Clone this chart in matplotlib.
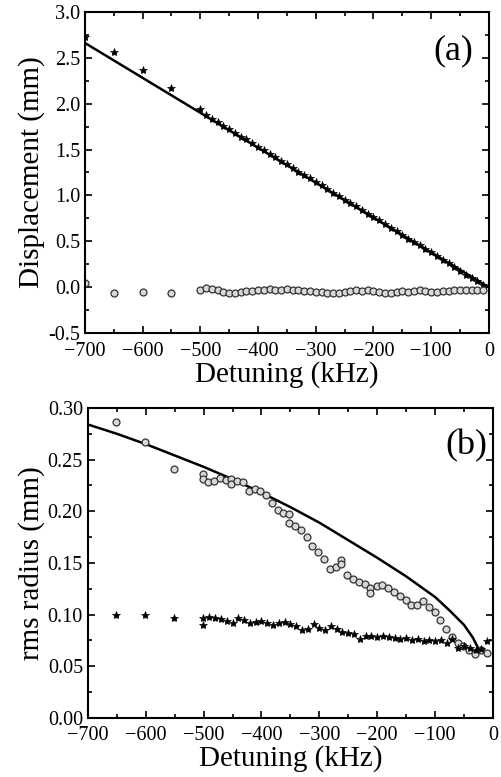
import matplotlib.pyplot as plt
from matplotlib.ticker import MultipleLocator

plt.rcParams['font.family'] = ['Liberation Serif', 'DejaVu Serif']

# ---- panel (a): displacement ----
a_star_x = [-700, -650, -600, -550,
            -500, -490, -480, -470, -460, -450, -440, -430, -420, -410,
            -400, -390, -380, -370, -360, -350, -340, -330, -320, -310,
            -300, -290, -280, -270, -260, -250, -240, -230, -220, -210,
            -200, -190, -180, -170, -160, -150, -140, -130, -120, -110,
            -100, -90, -80, -70, -60, -50, -40, -30, -20, -10]
a_star_y = [2.72, 2.56, 2.36, 2.17,
            1.94, 1.88, 1.83, 1.80, 1.76, 1.72, 1.68, 1.64, 1.61, 1.57,
            1.53, 1.49, 1.45, 1.42, 1.38, 1.34, 1.30, 1.26, 1.22, 1.19,
            1.15, 1.11, 1.07, 1.03, 0.99, 0.95, 0.92, 0.88, 0.84, 0.80,
            0.77, 0.73, 0.69, 0.65, 0.61, 0.57, 0.53, 0.49, 0.46, 0.42,
            0.38, 0.34, 0.30, 0.26, 0.22, 0.18, 0.14, 0.10, 0.07, 0.03]
a_circ_x = [-700, -650, -600, -550,
            -500, -490, -480, -470, -460, -450, -440, -430, -420, -410,
            -400, -390, -380, -370, -360, -350, -340, -330, -320, -310,
            -300, -290, -280, -270, -260, -250, -240, -230, -220, -210,
            -200, -190, -180, -170, -160, -150, -140, -130, -120, -110,
            -100, -90, -80, -70, -60, -50, -40, -30, -20, -10]
a_circ_y = [0.05, -0.06, -0.05, -0.06,
            -0.03, -0.01, -0.02, -0.03, -0.05, -0.06, -0.06, -0.05, -0.04, -0.04,
            -0.03, -0.03, -0.02, -0.03, -0.03, -0.02, -0.03, -0.03, -0.04, -0.04,
            -0.05, -0.05, -0.06, -0.06, -0.06, -0.05, -0.04, -0.03, -0.04, -0.03,
            -0.04, -0.05, -0.06, -0.06, -0.05, -0.04, -0.05, -0.04, -0.03, -0.04,
            -0.05, -0.05, -0.04, -0.04, -0.03, -0.03, -0.03, -0.03, -0.03, -0.03]
a_fit_x = [-700, 0]
a_fit_y = [2.66, 0.0]

# ---- panel (b): rms radius ----
b_circ_x = [-651, -602, -552, -501, -501, -492, -482, -472, -462, -452, -452,
            -442, -432, -422, -412, -402, -392, -382, -372, -362, -352, -352,
            -342, -332, -322, -312, -302, -292, -282, -272, -262, -262, -252,
            -242, -232, -221, -212, -212, -201, -191, -181, -171, -161, -151,
            -141, -131, -121, -111, -101, -91, -81, -71, -61, -51, -41, -31,
            -21, -10]
b_circ_y = [0.286, 0.267, 0.241, 0.236, 0.231, 0.228, 0.229, 0.232, 0.230, 0.231, 0.226,
            0.229, 0.228, 0.220, 0.222, 0.220, 0.216, 0.208, 0.201, 0.198, 0.197, 0.189,
            0.186, 0.182, 0.175, 0.166, 0.161, 0.154, 0.144, 0.146, 0.153, 0.149, 0.138,
            0.134, 0.132, 0.130, 0.126, 0.121, 0.128, 0.129, 0.126, 0.122, 0.118, 0.114,
            0.109, 0.109, 0.113, 0.107, 0.103, 0.095, 0.086, 0.078, 0.073, 0.070, 0.066, 0.062,
            0.066, 0.063]
b_star_x = [-651, -602, -552, -501, -501, -490, -480, -470, -460, -450, -440,
            -430, -420, -410, -400, -390, -380, -370, -360, -350, -340, -330,
            -320, -310, -300, -290, -280, -270, -260, -250, -240, -230, -220,
            -210, -200, -190, -180, -170, -160, -150, -140, -130, -120, -110,
            -100, -90, -80, -70, -60, -50, -40, -30, -20, -10]
b_star_y = [0.100, 0.100, 0.097, 0.097, 0.090, 0.098, 0.097, 0.096, 0.094, 0.092, 0.097,
            0.095, 0.092, 0.093, 0.094, 0.092, 0.090, 0.092, 0.093, 0.091, 0.089, 0.085,
            0.086, 0.091, 0.087, 0.085, 0.089, 0.086, 0.083, 0.082, 0.081, 0.076, 0.079,
            0.079, 0.078, 0.079, 0.078, 0.077, 0.076, 0.077, 0.075, 0.076, 0.074, 0.075,
            0.074, 0.075, 0.073, 0.076, 0.068, 0.070, 0.068, 0.066, 0.067, 0.074]
b_fit_x = [-700, -650, -600, -550, -500, -450, -400, -350, -300, -250, -200,
           -150, -100, -75, -50, -35, -25]
b_fit_y = [0.284, 0.275, 0.265, 0.254, 0.243, 0.231, 0.218, 0.204, 0.189, 0.172,
           0.155, 0.137, 0.117, 0.104, 0.090, 0.078, 0.067]

fig = plt.figure(figsize=(5.02, 7.77), dpi=100)
ax1 = fig.add_axes([0.169, 0.571, 0.805, 0.414])
ax2 = fig.add_axes([0.175, 0.076, 0.807, 0.399])

star_kw = dict(ls='none', marker='*', color='black', ms=6, mew=0.5)
circ_kw = dict(ls='none', marker='o', mfc='#d8d8d8', mec='#333333', ms=5, mew=0.9)

ax1.plot(a_fit_x, a_fit_y, color='black', lw=1.8)
ax1.plot(a_star_x, a_star_y, **star_kw)
ax1.plot(a_circ_x, a_circ_y, **circ_kw)
ax1.set_xlim(-700, 0)
ax1.set_ylim(-0.5, 3.0)
ax1.yaxis.set_major_locator(MultipleLocator(0.5))
ax1.yaxis.set_minor_locator(MultipleLocator(0.25))
ax1.yaxis.set_major_formatter(plt.FormatStrFormatter('%.1f'))
ax1.set_ylabel('Displacement (mm)', fontsize=21, labelpad=2)
ax1.text(0.96, 0.93, '(a)', transform=ax1.transAxes, ha='right', va='top', fontsize=26)

ax2.plot(b_fit_x, b_fit_y, color='black', lw=1.8)
ax2.plot(b_circ_x, b_circ_y, **circ_kw)
ax2.plot(b_star_x, b_star_y, **star_kw)
ax2.set_xlim(-700, 0)
ax2.set_ylim(0.0, 0.30)
ax2.yaxis.set_major_locator(MultipleLocator(0.05))
ax2.yaxis.set_minor_locator(MultipleLocator(0.025))
ax2.yaxis.set_major_formatter(plt.FormatStrFormatter('%.2f'))
ax2.set_ylabel('rms radius (mm)', fontsize=21, labelpad=2)
ax2.text(0.985, 0.93, '(b)', transform=ax2.transAxes, ha='right', va='top', fontsize=26)

for ax in (ax1, ax2):
    ax.xaxis.set_major_locator(MultipleLocator(100))
    ax.xaxis.set_minor_locator(MultipleLocator(50))
    ax.tick_params(which='both', direction='in', top=True, right=True, labelsize=14.5, width=1.2)
    ax.tick_params(which='major', length=5)
    ax.tick_params(which='minor', length=3)
    ax.tick_params(axis='x', pad=6)
    ax.set_xlabel('Detuning (kHz)', fontsize=21, labelpad=0)
    for s in ax.spines.values():
        s.set_linewidth(1.5)

fig.savefig('out.png', dpi=100)
